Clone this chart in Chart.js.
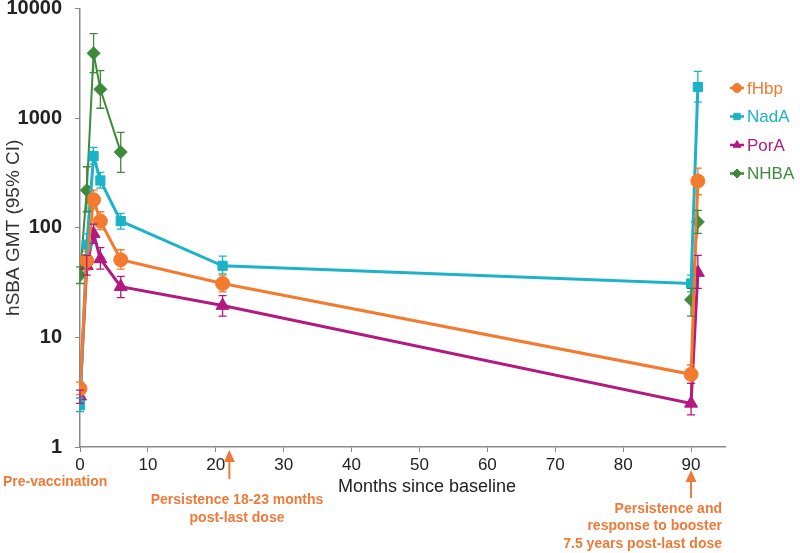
<!DOCTYPE html>
<html><head><meta charset="utf-8">
<script src="https://cdn.jsdelivr.net/npm/chart.js@4"></script>
<style>html,body{margin:0;padding:0;background:#fff}#wrap{width:800px;height:553px;position:relative}</style>
</head><body><div id="wrap"><canvas id="c" width="800" height="553"></canvas></div>
<script>
const months = [0, 1, 2, 3, 6, 21, 90, 91];
const seriesNames = ['fHbp', 'NadA', 'PorA', 'NHBA'];
const fHbp     = [3.4, 50, 180, 115, 51, 31, 4.6, 267];
const fHbpLow  = [3.0, 41, 150, 96, 42, 26, 3.8, 200];
const fHbpHigh = [3.9, 61, 220, 140, 63, 37, 5.6, 350];
const nadA     = [2.4, 70, 450, 270, 115, 45, 31, 1920];
const nadALow  = [2.1, 56, 380, 230, 97, 38, 26, 1400];
const nadAHigh = [2.8, 88, 540, 320, 135, 55, 37, 2670];
const porA     = [2.9, 45, 88, 52, 29, 19.5, 2.5, 39];
const porALow  = [2.5, 37, 72, 42, 23, 15.6, 1.96, 28];
const porAHigh = [3.3, 56, 108, 66, 36, 24, 3.8, 56];
const nhba     = [37, 220, 3900, 1830, 490, null, 22, 113];
const nhbaLow  = [31, 140, 2600, 1230, 320, null, 15.6, 89];
const nhbaHigh = [44, 360, 5900, 2710, 740, null, 28, 144];
const xTicks = [0, 10, 20, 30, 40, 50, 60, 70, 80, 90];
const yTicks = [1, 10, 100, 1000, 10000];
const xTitle = 'Months since baseline';
const yTitle = 'hSBA GMT (95% CI)';
const notePre = 'Pre-vaccination';
const notePersist = ['Persistence 18-23 months', 'post-last dose'];
const noteBooster = ['Persistence and', 'response to booster', '7.5 years post-last dose'];
const arrowMonths = [22, 90];

const colors = ['#F47A2E', '#1CB2C8', '#B3197F', '#3F8A3A'];
const styles = ['circle', 'rect', 'triangle', 'rectRot'];
const radii = [7, 6.5, 7.5, 6.5];
const widths = [3, 3, 3, 2];
const values = [fHbp, nadA, porA, nhba];
const lows = [fHbpLow, nadALow, porALow, nhbaLow];
const highs = [fHbpHigh, nadAHigh, porAHigh, nhbaHigh];
const noteColor = '#EE7A3A';
const FONT = "'Liberation Sans', Arial, sans-serif";

const datasets = seriesNames.map((n, k) => ({
  label: n,
  data: months.map((m, i) => ({ x: m, y: values[k][i] })),
  borderColor: colors[k],
  backgroundColor: colors[k],
  borderWidth: widths[k],
  pointStyle: styles[k],
  pointRadius: radii[k],
  pointBorderWidth: 1,
  spanGaps: false,
  tension: 0,
  errLow: lows[k],
  errHigh: highs[k]
}));

const errorBars = {
  id: 'errorBars',
  afterDatasetsDraw(chart) {
    const ctx = chart.ctx, ys = chart.scales.y;
    chart.data.datasets.forEach((ds, k) => {
      const meta = chart.getDatasetMeta(k);
      ctx.save();
      ctx.strokeStyle = ds.borderColor;
      ctx.lineWidth = 1.3;
      meta.data.forEach((pt, i) => {
        const lo = ds.errLow[i], hi = ds.errHigh[i];
        if (lo == null || hi == null) return;
        const x = pt.x, y1 = ys.getPixelForValue(lo), y2 = ys.getPixelForValue(hi);
        ctx.beginPath();
        ctx.moveTo(x, y1); ctx.lineTo(x, y2);
        ctx.moveTo(x - 4, y1); ctx.lineTo(x + 4, y1);
        ctx.moveTo(x - 4, y2); ctx.lineTo(x + 4, y2);
        ctx.stroke();
      });
      ctx.restore();
    });
  }
};

function arrow(ctx, x, yTop, yBot) {
  ctx.beginPath();
  ctx.moveTo(x, yTop + 10); ctx.lineTo(x, yBot);
  ctx.stroke();
  ctx.beginPath();
  ctx.moveTo(x, yTop); ctx.lineTo(x - 5.5, yTop + 12); ctx.lineTo(x + 5.5, yTop + 12);
  ctx.closePath(); ctx.fill();
}

const annotations = {
  id: 'annotations',
  afterDraw(chart) {
    const ctx = chart.ctx, xs = chart.scales.x;
    ctx.save();
    ctx.fillStyle = '#222';
    ctx.font = '18px ' + FONT;
    ctx.textAlign = 'center'; ctx.textBaseline = 'middle';
    ctx.fillText(xTitle, 427, 487);
    ctx.fillStyle = noteColor; ctx.strokeStyle = noteColor; ctx.lineWidth = 2;
    ctx.font = 'bold 14px ' + FONT;
    ctx.textAlign = 'left';
    ctx.fillText(notePre, 3, 482);
    ctx.textAlign = 'center';
    ctx.fillText(notePersist[0], 237, 500);
    ctx.fillText(notePersist[1], 237, 518);
    ctx.textAlign = 'right';
    noteBooster.forEach((t, i) => ctx.fillText(t, 722, 509 + i * 17.5));
    arrow(ctx, xs.getPixelForValue(arrowMonths[0]), 450, 479);
    arrow(ctx, xs.getPixelForValue(arrowMonths[1]), 470, 498);
    ctx.font = '17px ' + FONT;
    ctx.textAlign = 'left';
    chart.data.datasets.forEach((ds, k) => {
      const y = 88 + k * 28.5;
      ctx.strokeStyle = ds.borderColor; ctx.fillStyle = ds.borderColor; ctx.lineWidth = 2.5;
      ctx.beginPath(); ctx.moveTo(730, y); ctx.lineTo(744, y); ctx.stroke();
      ctx.lineWidth = 1;
      Chart.helpers.drawPoint(ctx, { pointStyle: ds.pointStyle, radius: 4.5, borderWidth: 1, rotation: 0 }, 737, y);
      ctx.fillText(ds.label, 747, y + 1);
    });
    ctx.restore();
  }
};

new Chart(document.getElementById('c'), {
  type: 'line',
  data: { datasets },
  options: {
    responsive: false,
    animation: false,
    layout: { padding: { top: 8, right: 75, left: 0, bottom: 0 } },
    plugins: { legend: { display: false }, tooltip: { enabled: false } },
    scales: {
      x: {
        type: 'linear', min: 0, max: 95,
        afterBuildTicks: s => { s.ticks = xTicks.map(v => ({ value: v })); },
        afterFit: s => { s.height = 106; s.paddingLeft = 0; s.paddingRight = 0; },
        ticks: { font: { family: FONT, size: 17 }, color: '#222', padding: 3, maxRotation: 0 },
        grid: { drawOnChartArea: false, tickLength: 5, color: '#8a8a8a', tickColor: '#8a8a8a' },
        border: { color: '#8a8a8a', width: 1.5 }
      },
      y: {
        type: 'logarithmic', min: 1, max: 10000,
        afterBuildTicks: s => { s.ticks = yTicks.map(v => ({ value: v })); },
        afterFit: s => { s.width = 80; s.paddingTop = 0; s.paddingBottom = 0; },
        ticks: { font: { family: FONT, size: 20, weight: 'bold' }, color: '#222', padding: 13, callback: v => String(v) },
        grid: { drawOnChartArea: false, tickLength: 5, color: '#8a8a8a', tickColor: '#8a8a8a' },
        border: { color: '#8a8a8a', width: 1.5 },
        title: { display: true, text: yTitle, font: { family: FONT, size: 19 }, color: '#333', padding: { top: 2, bottom: 0 } }
      }
    }
  },
  plugins: [errorBars, annotations]
});
</script></body></html>
